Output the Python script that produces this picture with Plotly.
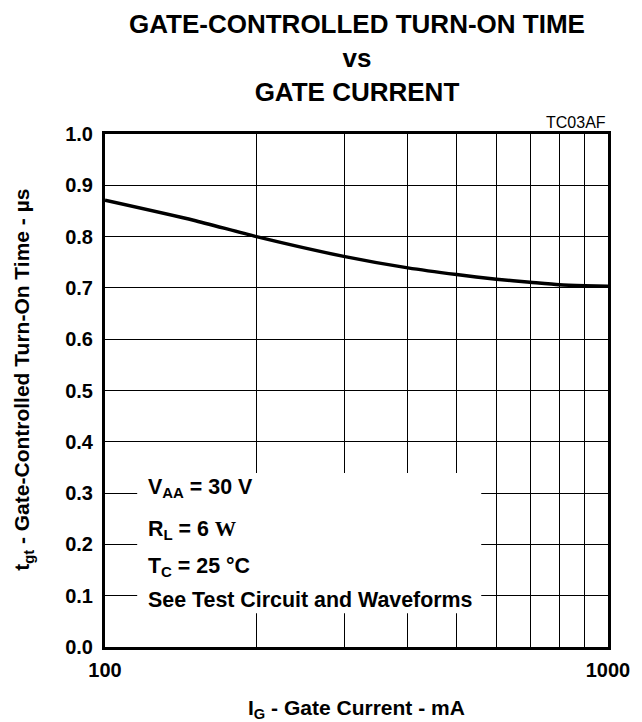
import plotly.graph_objects as go

# gate current (mA) vs gate-controlled turn-on time (us)
gate_current_ma = [100, 150, 200, 300, 400, 500, 600, 700, 800, 900, 1000]
turn_on_time_us = [0.871, 0.832, 0.800, 0.761, 0.739, 0.726, 0.717, 0.711, 0.706, 0.704, 0.703]

x_grid = [100, 200, 300, 400, 500, 600, 700, 800, 900, 1000]
x_labels = ["100", "", "", "", "", "", "", "", "", "1000"]
y_ticks = [0.0, 0.1, 0.2, 0.3, 0.4, 0.5, 0.6, 0.7, 0.8, 0.9, 1.0]

conditions = [
    "V<sub>AA</sub> = 30 V",
    "R<sub>L</sub> = 6 <span style=\"font-family:Liberation Serif\">W</span>",
    "T<sub>C</sub> = 25 °C",
    "See Test Circuit and Waveforms",
]
cond_y = [0.310, 0.228, 0.156, 0.092]

FONT = "Liberation Sans, Arial, sans-serif"

fig = go.Figure()
fig.add_trace(go.Scatter(
    x=gate_current_ma, y=turn_on_time_us,
    mode="lines", line=dict(color="black", width=3.5, shape="spline", smoothing=0.6),
    showlegend=False, hoverinfo="skip",
))

# white box behind the test conditions
fig.add_shape(type="rect", xref="paper", yref="paper",
              x0=0.064, x1=0.748, y0=0.066, y1=0.339,
              fillcolor="white", line_width=0, layer="above")

for txt, yy in zip(conditions, cond_y):
    fig.add_annotation(text=f"<b>{txt}</b>", xref="paper", yref="paper",
                       x=0.082, y=yy, xanchor="left", yanchor="middle",
                       showarrow=False, font=dict(size=21.4, color="black", family=FONT))

# title as an annotation (three lines)
fig.add_annotation(text="<b>GATE-CONTROLLED TURN-ON TIME<br>vs<br>GATE CURRENT</b>",
                   xref="paper", yref="paper", x=0.5, y=1.2476,
                   xanchor="center", yanchor="top", showarrow=False,
                   font=dict(size=26, color="black", family=FONT))

fig.add_annotation(text="TC03AF", xref="paper", yref="paper", x=1.0, y=1.023,
                   xanchor="right", yanchor="middle", showarrow=False,
                   font=dict(size=16, color="black", family=FONT))

fig.add_annotation(text="<b>I<sub>G</sub> - Gate Current - mA</b>", xref="paper", yref="paper",
                   x=0.5, y=-0.12, xanchor="center", yanchor="middle", showarrow=False,
                   font=dict(size=21, color="black", family=FONT))

fig.add_annotation(text="<b>t<sub>gt</sub> - Gate-Controlled Turn-On Time - µs</b>",
                   xref="paper", yref="paper", x=-0.162, y=0.52, textangle=-90,
                   xanchor="center", yanchor="middle", showarrow=False,
                   font=dict(size=21, color="black", family=FONT))

# page body has an 8px margin, so the figure is 8px smaller than the window
fig.update_layout(
    width=634, height=714,
    margin=dict(l=97, r=25, t=126, b=75),
    paper_bgcolor="white", plot_bgcolor="white",
    font=dict(family=FONT, color="black"),
)
fig.update_xaxes(
    type="log", range=[2, 3],
    tickmode="array", tickvals=x_grid, ticktext=x_labels,
    tickfont=dict(size=20, family=FONT, weight="bold"), ticklabelstandoff=3,
    showgrid=True, gridcolor="black", gridwidth=1,
    showline=True, linecolor="black", linewidth=3, mirror=True,
    ticks="", zeroline=False,
)
fig.update_yaxes(
    range=[0, 1],
    tickmode="array", tickvals=y_ticks, tickformat=".1f",
    tickfont=dict(size=20, family=FONT, weight="bold"), ticklabelstandoff=5,
    showgrid=True, gridcolor="black", gridwidth=1,
    showline=True, linecolor="black", linewidth=3, mirror=True,
    ticks="", zeroline=False,
)

fig.write_html("out.html")
